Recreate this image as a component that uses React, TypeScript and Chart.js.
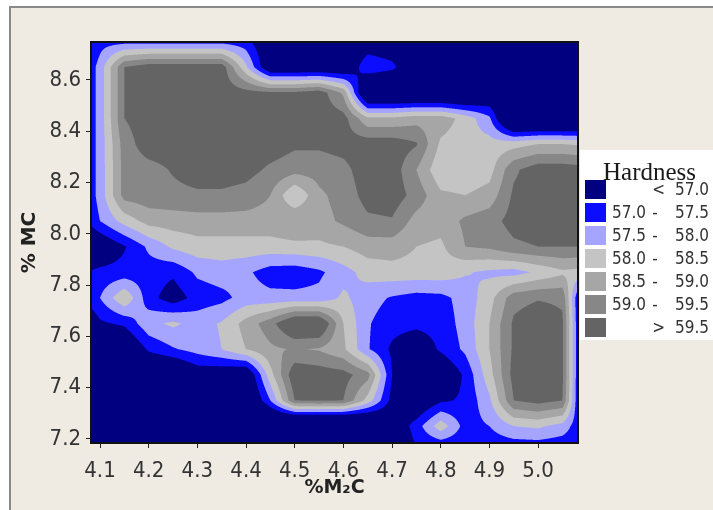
import React, { useEffect, useRef } from "react";
import { Chart, registerables } from "chart.js";

Chart.register(...registerables);

// ---- grid of hardness values ----
const xNodes = [4.05, 4.1, 4.15, 4.2, 4.25, 4.3, 4.35, 4.4, 4.45, 4.5, 4.55, 4.6, 4.65, 4.7, 4.75, 4.8, 4.85, 4.9, 4.95, 5.0, 5.05, 5.1];
const yNodes = [8.75, 8.65, 8.55, 8.45, 8.35, 8.25, 8.15, 8.05, 7.95, 7.85, 7.75, 7.65, 7.55, 7.45, 7.35, 7.25, 7.15];

const h875 = [56.6, 57.3, 57.3, 57.3, 57.3, 57.3, 57.3, 57.2, 56.3, 56.3, 56.3, 56.3, 56.6, 56.5, 56.3, 56.3, 56.3, 56.3, 56.3, 56.3, 56.3, 56.3];
const h865 = [56.6, 57.7, 59.5, 59.8, 59.8, 59.8, 59.8, 58.1, 56.3, 56.3, 56.3, 56.3, 57.4, 57.15, 56.3, 56.3, 56.3, 56.3, 56.3, 56.3, 56.3, 56.3];
const h855 = [56.6, 57.7, 59.5, 59.8, 59.8, 59.8, 59.8, 59.7, 59.6, 59.6, 59.8, 58.9, 55.8, 55.8, 55.8, 55.8, 55.8, 56.3, 56.3, 56.3, 56.3, 56.3];
const h845 = [56.6, 57.7, 59.5, 59.8, 59.8, 59.8, 59.8, 59.8, 59.8, 59.8, 59.8, 59.7, 58.6, 58.6, 58.8, 58.8, 58.3, 57.6, 55.5, 55.5, 55.5, 55.5];
const h835 = [56.6, 57.7, 59.25, 59.8, 59.8, 59.8, 59.8, 59.8, 59.8, 59.6, 59.6, 59.7, 59.8, 59.8, 59.55, 58.4, 58.2, 58.2, 58.3, 58.5, 58.5, 58.4];
const h825 = [56.6, 57.7, 59.2, 59.3, 59.55, 59.8, 59.8, 59.7, 59.4, 59.2, 59.2, 59.35, 59.8, 59.8, 59.0, 58.1, 58.1, 58.3, 59.4, 59.8, 59.8, 59.7];
const h815 = [56.6, 57.7, 59.2, 59.3, 59.35, 59.4, 59.4, 59.3, 59.0, 58.0, 58.9, 59.2, 59.7, 59.8, 59.3, 58.6, 58.5, 58.7, 59.6, 59.8, 59.8, 59.7];
const h805 = [56.6, 57.5, 58.2, 58.7, 58.75, 58.8, 58.8, 58.8, 58.8, 59.0, 58.8, 59.1, 59.4, 59.45, 58.8, 58.7, 59.1, 59.3, 59.7, 59.8, 59.8, 59.6];
const h795 = [56.0, 56.4, 56.95, 57.6, 58.1, 58.3, 58.3, 58.3, 58.3, 58.35, 58.4, 58.5, 58.75, 58.75, 58.5, 58.4, 59.0, 59.1, 59.4, 59.5, 59.5, 59.5];
const h785 = [56.9, 57.15, 57.2, 57.25, 57.1, 57.6, 57.75, 57.6, 57.25, 57.2, 57.4, 57.8, 58.2, 58.3, 58.3, 58.3, 58.05, 57.9, 57.8, 58.1, 58.4, 58.3];
const h775 = [56.9, 57.5, 58.45, 57.2, 56.7, 57.2, 57.35, 57.7, 57.65, 57.65, 57.65, 58.1, 57.7, 57.45, 57.3, 57.35, 57.7, 58.3, 59.3, 59.45, 59.4, 55.8];
const h765 = [56.0, 56.9, 57.1, 57.85, 58.1, 57.8, 58.05, 58.7, 59.3, 60.2, 60.2, 58.5, 57.55, 57.2, 57.15, 57.2, 57.7, 58.5, 59.6, 59.9, 59.6, 55.8];
const h755 = [56.0, 56.0, 56.2, 57.1, 57.45, 57.7, 58.0, 58.5, 58.9, 59.05, 58.95, 58.6, 57.55, 56.9, 56.5, 57.1, 57.6, 58.5, 59.6, 59.9, 59.6, 55.8];
const h745 = [56.0, 56.0, 56.0, 56.0, 56.0, 56.6, 56.5, 56.3, 58.3, 59.9, 59.8, 59.7, 59.2, 57.0, 56.3, 56.3, 57.1, 58.3, 59.7, 59.9, 59.6, 55.8];
const h735 = [56.0, 56.0, 56.0, 56.0, 56.0, 56.0, 56.0, 56.0, 57.5, 59.5, 59.55, 59.5, 58.3, 56.8, 56.3, 56.9, 57.1, 57.9, 59.5, 59.7, 59.5, 55.8];
const h725 = [55.5, 55.5, 55.5, 55.5, 55.5, 55.5, 55.5, 55.5, 55.5, 55.0, 55.0, 55.0, 55.5, 56.4, 57.25, 58.3, 57.3, 57.5, 58.0, 58.1, 57.8, 56.9];
const h715 = [55.5, 55.5, 55.5, 55.5, 55.5, 55.5, 55.5, 55.5, 55.5, 55.5, 55.5, 55.5, 55.5, 56.0, 57.0, 56.8, 57.1, 57.1, 57.0, 57.0, 57.0, 57.3];

const hardnessRows = [h875, h865, h855, h845, h835, h825, h815, h805, h795, h785, h775, h765, h755, h745, h735, h725, h715];

// contour classes
const levels = [57.0, 57.5, 58.0, 58.5, 59.0, 59.5];
const levelColors = ["#000080", "#0c0cff", "#a5a5ff", "#c4c4c4", "#a6a6a6", "#878787", "#646464"];

// axes
const xTicks = [4.1, 4.2, 4.3, 4.4, 4.5, 4.6, 4.7, 4.8, 4.9, 5.0];
const yTicks = [7.2, 7.4, 7.6, 7.8, 8.0, 8.2, 8.4, 8.6];
const xLimits = [4.0815, 5.082];
const yLimits = [7.184, 8.748];
const xTitle = "%M\u2082C";
const yTitle = "% MC";
const legendTitle = "Hardness";

const TICK_FONT = '"DejaVu Sans Condensed", "DejaVu Sans", sans-serif';
const TITLE_FONT = '"DejaVu Sans", sans-serif';

function hexToRgb(h: string): number[] {
  const n = parseInt(h.slice(1), 16);
  return [(n >> 16) & 255, (n >> 8) & 255, n & 255];
}

function locate(nodes: number[], v: number): [number, number] {
  for (let i = 0; i < nodes.length - 1; i++) {
    const a = nodes[i];
    const b = nodes[i + 1];
    const lo = Math.min(a, b);
    const hi = Math.max(a, b);
    if (v >= lo && v <= hi) return [i, (v - a) / (b - a)];
  }
  const first = nodes[0];
  const asc = nodes[1] > nodes[0];
  if ((asc && v < first) || (!asc && v > first)) return [0, 0];
  return [nodes.length - 2, 1];
}

function classify(v: number): number {
  let k = 0;
  for (let i = 0; i < levels.length; i++) if (v >= levels[i]) k = i + 1;
  return k;
}

const backgroundPlugin = {
  id: "panelBackground",
  beforeDraw(chart: any) {
    const ctx = chart.ctx;
    ctx.save();
    ctx.fillStyle = "#ffffff";
    ctx.fillRect(0, 0, chart.width, chart.height);
    ctx.fillStyle = "#efebe3";
    ctx.fillRect(10, 7, chart.width - 10, chart.height - 7);
    ctx.strokeStyle = "#8a8a8a";
    ctx.lineWidth = 2;
    ctx.beginPath();
    ctx.moveTo(10, chart.height);
    ctx.lineTo(10, 7);
    ctx.lineTo(chart.width, 7);
    ctx.stroke();
    ctx.restore();
  },
};

const contourPlugin = {
  id: "filledContour",
  beforeDatasetsDraw(chart: any) {
    const { ctx, chartArea, scales } = chart;
    const xs = scales.x;
    const ys = scales.y;
    const left = Math.round(chartArea.left);
    const top = Math.round(chartArea.top);
    const w = Math.round(chartArea.right) - left;
    const h = Math.round(chartArea.bottom) - top;
    const S = 3;
    const rgb = levelColors.map(hexToRgb);
    const colLoc: [number, number][] = [];
    for (let px = 0; px < w; px++) {
      for (let s = 0; s < S; s++) {
        colLoc.push(locate(xNodes, xs.getValueForPixel(left + px + (s + 0.5) / S)));
      }
    }
    const rowLoc: [number, number][] = [];
    for (let py = 0; py < h; py++) {
      for (let s = 0; s < S; s++) {
        rowLoc.push(locate(yNodes, ys.getValueForPixel(top + py + (s + 0.5) / S)));
      }
    }
    const img = ctx.createImageData(w, h);
    const d = img.data;
    for (let py = 0; py < h; py++) {
      for (let px = 0; px < w; px++) {
        let r = 0, g = 0, b = 0;
        for (let sy = 0; sy < S; sy++) {
          const [j, ty] = rowLoc[py * S + sy];
          const r0 = hardnessRows[j];
          const r1 = hardnessRows[j + 1];
          for (let sx = 0; sx < S; sx++) {
            const [i, tx] = colLoc[px * S + sx];
            const a = r0[i] + (r0[i + 1] - r0[i]) * tx;
            const c = r1[i] + (r1[i + 1] - r1[i]) * tx;
            const v = a + (c - a) * ty;
            const col = rgb[classify(v)];
            r += col[0];
            g += col[1];
            b += col[2];
          }
        }
        const o = (py * w + px) * 4;
        const n = S * S;
        d[o] = r / n;
        d[o + 1] = g / n;
        d[o + 2] = b / n;
        d[o + 3] = 255;
      }
    }
    ctx.putImageData(img, left, top);
  },
};

const framePlugin = {
  id: "frameAndLegend",
  afterDraw(chart: any) {
    const { ctx, chartArea } = chart;
    ctx.save();
    // plot border
    ctx.strokeStyle = "#111111";
    ctx.lineWidth = 2;
    ctx.strokeRect(chartArea.left, chartArea.top, chartArea.right - chartArea.left, chartArea.bottom - chartArea.top);

    // legend box
    const bx = 580, by = 150, bw = 133, bh = 190;
    ctx.fillStyle = "#ffffff";
    ctx.fillRect(bx, by, bw, bh);
    ctx.fillStyle = "#1a1a1a";
    ctx.font = '25px "Liberation Serif", "Times New Roman", serif';
    ctx.textAlign = "left";
    ctx.textBaseline = "alphabetic";
    ctx.fillText(legendTitle, 603, 180);

    ctx.font = "17px " + TICK_FONT;
    ctx.textBaseline = "middle";
    for (let k = 0; k < levelColors.length; k++) {
      const sy = 180 + k * 23;
      ctx.fillStyle = levelColors[k];
      ctx.fillRect(585, sy, 21, 19);
      ctx.fillStyle = "#333333";
      const ty = sy + 11;
      ctx.textAlign = "right";
      if (k === 0) {
        ctx.fillText("<", 665, ty);
        ctx.fillText(levels[0].toFixed(1), 709, ty);
      } else if (k === levelColors.length - 1) {
        ctx.fillText(">", 665, ty);
        ctx.fillText(levels[levels.length - 1].toFixed(1), 709, ty);
      } else {
        ctx.fillText(levels[k - 1].toFixed(1), 646, ty);
        ctx.textAlign = "center";
        ctx.fillText("-", 655, ty);
        ctx.textAlign = "right";
        ctx.fillText(levels[k].toFixed(1), 709, ty);
      }
    }
    ctx.restore();
  },
};

export default function App() {
  const ref = useRef<HTMLCanvasElement>(null);
  useEffect(() => {
    if (!ref.current) return;
    const chart = new Chart(ref.current, {
      type: "scatter",
      data: { datasets: [{ data: [], pointRadius: 0 }] },
      options: {
        animation: false,
        responsive: false,
        devicePixelRatio: 1,
        events: [],
        layout: { padding: { left: 8, top: 42, right: 135, bottom: 0 } },
        plugins: { legend: { display: false }, tooltip: { enabled: false } },
        scales: {
          x: {
            type: "linear",
            min: xLimits[0],
            max: xLimits[1],
            afterBuildTicks: (s: any) => {
              s.ticks = xTicks.map((v) => ({ value: v }));
            },
            afterFit: (s: any) => {
              s.height = 67;
            },
            grid: { display: true, drawOnChartArea: false, drawTicks: true, tickLength: 5, tickColor: "#222222", color: "#222222" },
            border: { display: false },
            ticks: {
              autoSkip: false,
              maxRotation: 0,
              padding: 10,
              color: "#333333",
              font: { family: TICK_FONT, size: 22 },
              callback: (v: any) => Number(v).toFixed(1),
            },
            title: {
              display: true,
              text: xTitle,
              color: "#222222",
              font: { family: TITLE_FONT, size: 19, weight: "bold" },
              padding: { top: 0, bottom: 11 },
            },
          },
          y: {
            type: "linear",
            min: yLimits[0],
            max: yLimits[1],
            afterBuildTicks: (s: any) => {
              s.ticks = yTicks.map((v) => ({ value: v }));
            },
            afterFit: (s: any) => {
              s.width = 83;
            },
            grid: { display: true, drawOnChartArea: false, drawTicks: true, tickLength: 5, tickColor: "#222222", color: "#222222" },
            border: { display: false },
            ticks: {
              autoSkip: false,
              padding: 5,
              color: "#333333",
              font: { family: TICK_FONT, size: 22 },
              callback: (v: any) => Number(v).toFixed(1),
            },
            title: {
              display: true,
              text: yTitle,
              color: "#222222",
              font: { family: TITLE_FONT, size: 20, weight: "bold" },
              padding: { top: 10, bottom: 0 },
            },
          },
        },
      },
      plugins: [backgroundPlugin, contourPlugin, framePlugin],
    } as any);
    return () => chart.destroy();
  }, []);
  return (
    <div style={{ position: "fixed", left: 0, top: 0, width: 713, height: 510 }}>
      <canvas ref={ref} width={713} height={510} style={{ display: "block", width: 713, height: 510 }} />
    </div>
  );
}
